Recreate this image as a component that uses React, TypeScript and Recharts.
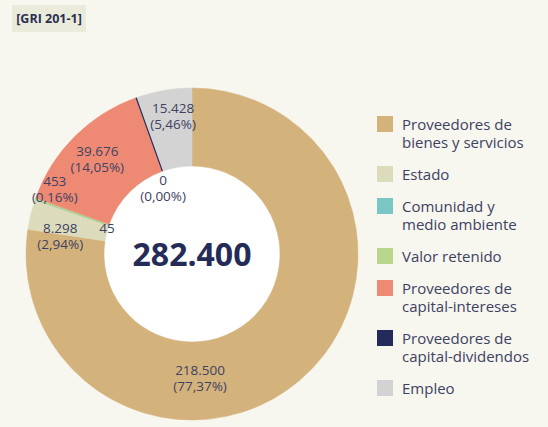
import React from 'react';
import { PieChart, Pie, Cell, Legend } from 'recharts';

const names = [
  'Proveedores de bienes y servicios',
  'Estado',
  'Comunidad y medio ambiente',
  'Valor retenido',
  'Proveedores de capital-intereses',
  'Proveedores de capital-dividendos',
  'Empleo',
];
const legendLines = [
  ['Proveedores de', 'bienes y servicios'],
  ['Estado'],
  ['Comunidad y', 'medio ambiente'],
  ['Valor retenido'],
  ['Proveedores de', 'capital-intereses'],
  ['Proveedores de', 'capital-dividendos'],
  ['Empleo'],
];
const values = [218500, 8298, 45, 453, 39676, 0, 15428];
const colors = ['#d4b27c', '#dcdcbd', '#79c7c5', '#b9d68c', '#ee8a74', '#242a59', '#d3d3d3'];

// label placement: angle shift from slice middle (deg), radius (px), show percent
const labelPos = [
  { da: -37, r: 124, pct: true },
  { da: 6, r: 133, pct: true },
  { da: 2, r: 89, pct: false },
  { da: -6, r: 152, pct: true },
  { da: 0, r: 134, pct: true },
  { da: 4, r: 72, pct: true },
  { da: -2, r: 139, pct: true },
];

const total = values.reduce((a, b) => a + b, 0);
const data = names.map((name, i) => ({ name, value: values[i] }));

const fmt = (n: number) => n.toLocaleString('de-DE');
const fmtPct = (n: number) => (n * 100).toFixed(2).replace('.', ',') + '%';

const RAD = Math.PI / 180;
const FONT = '"Open Sans", sans-serif';
const TXT = '#3d4263';

const renderLabel = (props: any) => {
  const { cx, cy, midAngle, innerRadius, outerRadius, startAngle, index } = props;
  const lp = labelPos[index];
  const a = (midAngle + lp.da) * RAD;
  const x = cx + lp.r * Math.cos(a);
  const y = cy - lp.r * Math.sin(a);
  const v = values[index];
  const common = { x, textAnchor: 'middle' as const, fill: TXT, fontSize: 13.5, fontFamily: FONT };
  return (
    <g key={`lbl-${index}`}>
      {v === 0 && (
        <line
          x1={cx + innerRadius * Math.cos(startAngle * RAD)}
          y1={cy - innerRadius * Math.sin(startAngle * RAD)}
          x2={cx + outerRadius * Math.cos(startAngle * RAD)}
          y2={cy - outerRadius * Math.sin(startAngle * RAD)}
          stroke={colors[index]}
          strokeWidth={1.2}
        />
      )}
      {lp.pct ? (
        <>
          <text {...common} y={y - 3}>{fmt(v)}</text>
          <text {...common} y={y + 13}>({fmtPct(v / total)})</text>
        </>
      ) : (
        <text {...common} y={y + 5}>{fmt(v)}</text>
      )}
    </g>
  );
};

const LegendBox = () => (
  <div style={{ fontFamily: FONT, color: TXT, fontSize: 15 }}>
    {legendLines.map((lines, i) => (
      <div key={i} style={{ display: 'flex', marginBottom: 14, lineHeight: '18px' }}>
        <div style={{ width: 16, height: 16, background: colors[i], marginTop: 1, marginRight: 9, flexShrink: 0 }} />
        <div>
          {lines.map((l, j) => (
            <div key={j} style={{ whiteSpace: 'nowrap' }}>{l}</div>
          ))}
        </div>
      </div>
    ))}
  </div>
);

export default function App() {
  return (
    <div style={{ position: 'fixed', left: 0, top: 0, width: 548, height: 427, background: '#f7f6ef', overflow: 'hidden' }}>
      <div
        style={{
          position: 'absolute', left: 12, top: 5, width: 74, height: 27, background: '#ebebdc',
          fontFamily: FONT, fontWeight: 700, fontSize: 12.5, color: '#2b3050',
          display: 'flex', alignItems: 'center', justifyContent: 'center',
        }}
      >
        [GRI 201-1]
      </div>
      <PieChart
        width={548}
        height={427}
        margin={{ top: 0, right: 0, bottom: 0, left: 0 }}
        style={{ position: 'absolute', left: 0, top: 0 }}
      >
        <Pie
          data={[{ name: 'hole', value: 1 }]}
          dataKey="value"
          cx={192}
          cy={254}
          innerRadius={0}
          outerRadius={88}
          fill="#ffffff"
          stroke="none"
          legendType="none"
          isAnimationActive={false}
        />
        <Pie
          data={data}
          dataKey="value"
          nameKey="name"
          cx={192}
          cy={254}
          innerRadius={88}
          outerRadius={166}
          startAngle={90}
          endAngle={-270}
          label={renderLabel}
          labelLine={false}
          isAnimationActive={false}
        >
          {data.map((d, i) => (
            <Cell key={d.name} fill={colors[i]} stroke={colors[i]} strokeWidth={i === 2 || i === 3 ? 1 : 0.5} />
          ))}
        </Pie>
        <Legend
          layout="vertical"
          verticalAlign="top"
          align="right"
          content={<LegendBox />}
          wrapperStyle={{ left: 377, top: 115, width: 171 }}
        />
      </PieChart>
      <div
        style={{
          position: 'absolute', left: 92, top: 234, width: 200, textAlign: 'center',
          fontFamily: FONT, fontWeight: 700, fontSize: 32, color: '#252b57', lineHeight: '40px',
        }}
      >
        {fmt(total)}
      </div>
    </div>
  );
}
